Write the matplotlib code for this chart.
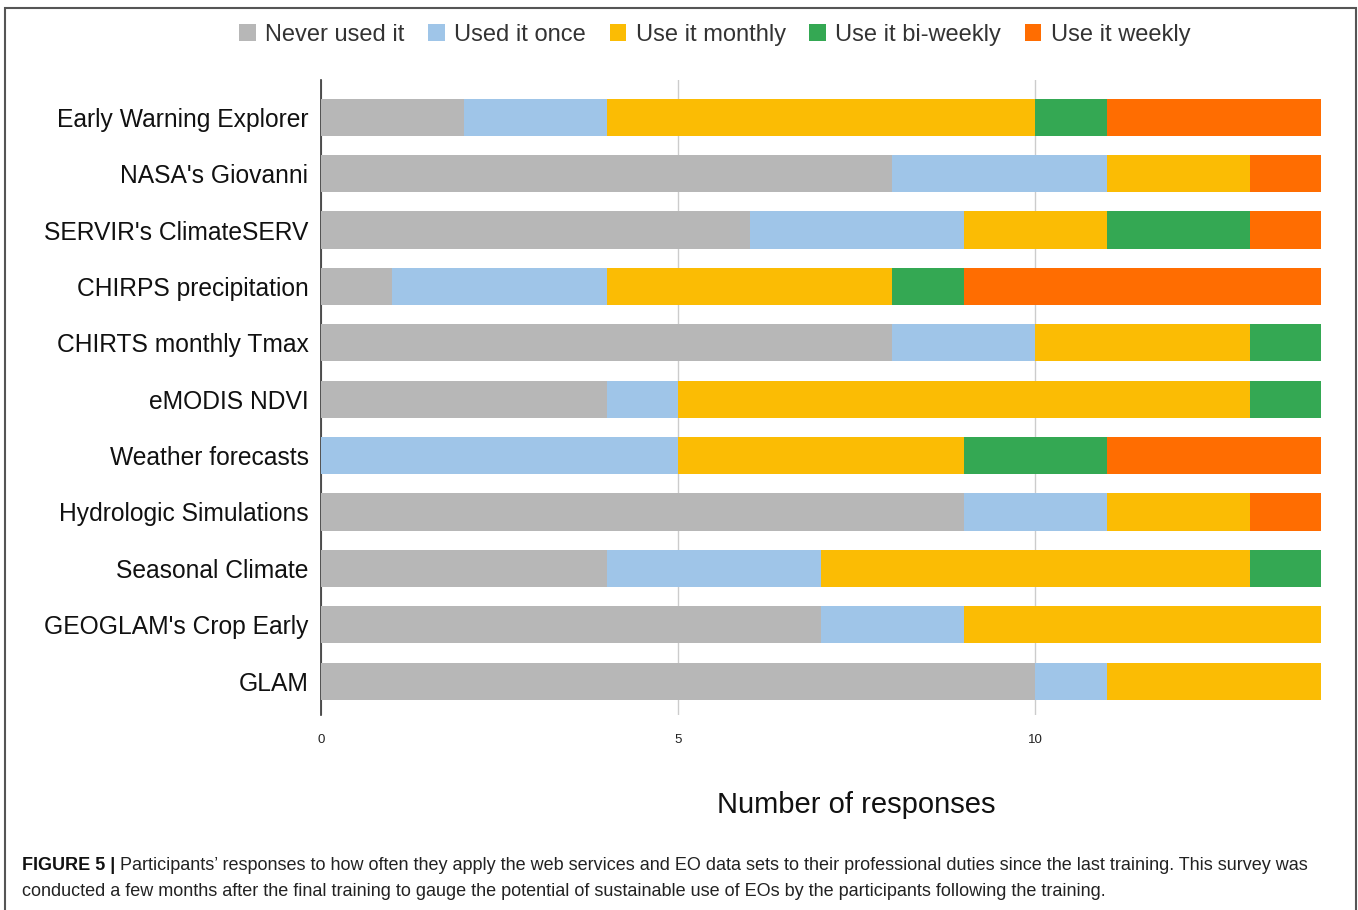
import matplotlib
matplotlib.use("Agg")
import matplotlib.pyplot as plt
from matplotlib.patches import Rectangle
import numpy as np

categories = ["Early Warning Explorer", "NASA's Giovanni", "SERVIR's ClimateSERV",
              "CHIRPS precipitation", "CHIRTS monthly Tmax", "eMODIS NDVI",
              "Weather forecasts", "Hydrologic Simulations", "Seasonal Climate",
              "GEOGLAM's Crop Early", "GLAM"]
series_names = ["Never used it", "Used it once", "Use it monthly", "Use it bi-weekly", "Use it weekly"]
never = [2, 8, 6, 1, 8, 4, 0, 9, 4, 7, 10]
once = [2, 3, 3, 3, 2, 1, 5, 2, 3, 2, 1]
monthly = [6, 2, 2, 4, 3, 8, 4, 2, 6, 5, 3]
biweekly = [1, 0, 2, 1, 1, 1, 2, 0, 1, 0, 0]
weekly = [3, 1, 1, 5, 0, 0, 3, 1, 0, 0, 0]
xticks = [0, 5, 10]
colors = ["#b7b7b7", "#9fc5e8", "#fbbc04", "#34a853", "#ff6d01"]

plt.rcParams['font.family'] = ['Liberation Sans', 'DejaVu Sans']

W, H = 1358, 910
fig = plt.figure(figsize=(W / 100, H / 100), dpi=100)

ax = fig.add_axes([321 / W, 1 - 715 / H, 1000 / W, 635 / H])
y = np.arange(len(categories))
left = np.zeros(len(categories))
handles = []
for name, vals, c in zip(series_names, [never, once, monthly, biweekly, weekly], colors):
    vals = np.array(vals, dtype=float)
    b = ax.barh(y, vals, left=left, height=0.66, color=c, label=name, zorder=3)
    handles.append(b)
    left += vals

ax.set_xlim(0, 14)
ax.set_ylim(10.6, -0.66)
ax.set_xticks(xticks)
ax.set_xticklabels([str(t) for t in xticks], fontsize=9.5, color="#222222")
ax.set_yticks(y)
ax.set_yticklabels(categories, fontsize=17.7, color="#111111")
ax.tick_params(axis='both', length=0)
ax.tick_params(axis='x', pad=14)
ax.tick_params(axis='y', pad=9)
for s in ["top", "right", "bottom"]:
    ax.spines[s].set_visible(False)
ax.spines["left"].set_color("#333333")
ax.spines["left"].set_linewidth(1.2)
ax.grid(axis='x', color="#cccccc", linewidth=1, zorder=0)
ax.set_axisbelow(True)

leg = fig.legend(handles=handles, labels=series_names, loc='center', bbox_to_anchor=(715 / W, 1 - 35 / H),
                 ncol=5, frameon=False, fontsize=17, handlelength=0.7, handleheight=0.7,
                 handletextpad=0.4, columnspacing=1.0, borderaxespad=0)
for t in leg.get_texts():
    t.set_color("#333333")

fig.text(856 / W, 1 - 805 / H, "Number of responses", fontsize=21, ha='center', va='center', color="#111111")

# frame
fig.patches.append(Rectangle((5 / W, -0.01), 1351 / W, 1 - 8 / H + 0.01, transform=fig.transFigure,
                             fill=False, edgecolor="#555555", linewidth=1.5))

# caption
t1 = fig.text(22 / W, 1 - 866 / H, "FIGURE 5 |", fontsize=13, fontweight='bold', ha='left', va='center',
              color="#111111")
fig.canvas.draw()
bb = t1.get_window_extent()
fig.text(bb.x1 / W, 1 - 866 / H,
         " Participants\u2019 responses to how often they apply the web services and EO data sets to their professional duties since the last training. This survey was",
         fontsize=13, ha='left', va='center', color="#222222")
fig.text(22 / W, 1 - 891 / H,
         "conducted a few months after the final training to gauge the potential of sustainable use of EOs by the participants following the training.",
         fontsize=13, ha='left', va='center', color="#222222")

fig.savefig("out.png", dpi=100)
